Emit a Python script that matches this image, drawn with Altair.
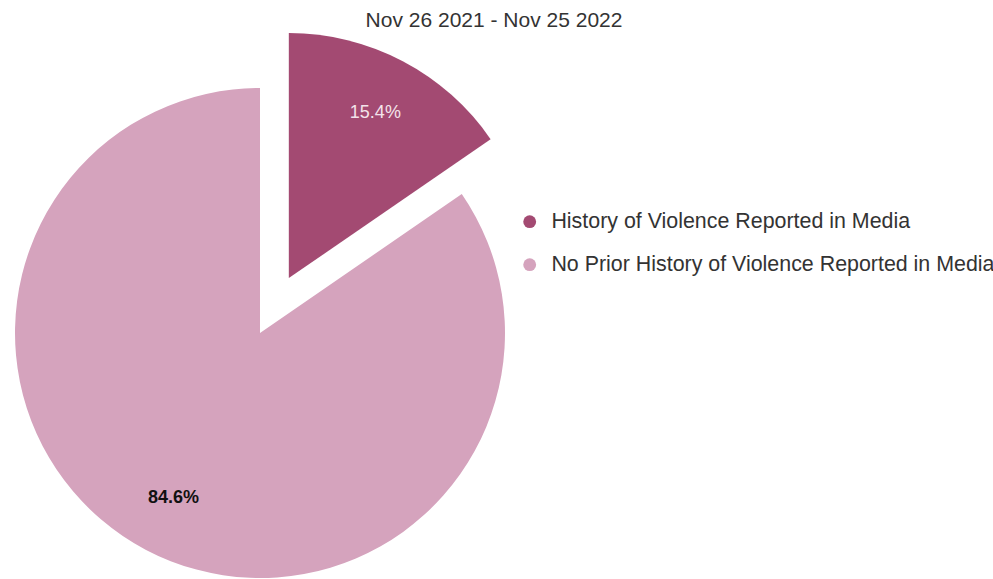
import altair as alt
import pandas as pd

categories = ["History of Violence Reported in Media",
              "No Prior History of Violence Reported in Media"]
shares = [15.4, 84.6]
labels = ["15.4%", "84.6%"]
title_text = ["Nov 26 2021 - Nov 25 2022"]

# layout / style constants
W, H = 993, 579
CX, CY = 260, 333
R = 245
EXPLODE = 62
LABEL_R = 186
colors = ["#a34a72", "#d5a3bd"]
FONT = "Liberation Sans"

df = pd.DataFrame({"category": categories, "share": shares,
                   "label": labels, "idx": list(range(len(categories)))})

base = (
    alt.Chart(df)
    .transform_joinaggregate(total="sum(share)")
    .transform_window(cum="sum(share)", sort=[alt.SortField("idx")], frame=[None, 0])
    .transform_calculate(
        a0="(datum.cum - datum.share) / datum.total * 2 * PI",
        a1="datum.cum / datum.total * 2 * PI",
    )
    .transform_calculate(mid="(datum.a0 + datum.a1) / 2",
                         off=f"datum.idx == 0 ? {EXPLODE} : 0")
    .transform_calculate(cx=f"{CX} + datum.off * sin(datum.mid)",
                         cy=f"{CY} - datum.off * cos(datum.mid)")
    .transform_calculate(lx=f"datum.cx + {LABEL_R} * sin(datum.mid)",
                         ly=f"datum.cy - {LABEL_R} * cos(datum.mid)")
)

arcs = base.mark_arc(outerRadius=R).encode(
    theta=alt.Theta("a0:Q", scale=None),
    theta2=alt.Theta2("a1:Q"),
    x=alt.X("cx:Q", scale=None, axis=None),
    y=alt.Y("cy:Q", scale=None, axis=None),
    color=alt.Color(
        "category:N",
        scale=alt.Scale(domain=categories, range=colors),
        legend=alt.Legend(
            title=None, orient="none", legendX=519, legendY=211,
            symbolType="circle", symbolSize=165, symbolStrokeWidth=0,
            labelFontSize=21.4, labelFont=FONT, labelColor="#333333",
            rowPadding=20, labelOffset=11, padding=0, labelLimit=600,
        ),
    ),
)

lab_small = base.transform_filter("datum.idx == 0").mark_text(
    fontSize=18, font=FONT, color="#f3e3ea", baseline="middle"
).encode(x=alt.X("lx:Q", scale=None), y=alt.Y("ly:Q", scale=None), text="label:N")

lab_big = base.transform_filter("datum.idx == 1").mark_text(
    fontSize=18, font=FONT, fontWeight="bold", color="#111111", baseline="middle"
).encode(x=alt.X("lx:Q", scale=None), y=alt.Y("ly:Q", scale=None), text="label:N")

title = alt.Chart(pd.DataFrame({"t": title_text})).mark_text(
    fontSize=21, font=FONT, color="#333333", baseline="alphabetic", align="center"
).encode(x=alt.value(494), y=alt.value(27), text="t:N")

chart = (
    alt.layer(arcs, lab_small, lab_big, title)
    .properties(width=W, height=H, padding=0, autosize="none")
    .configure_view(stroke=None)
)

chart.save("out.html", embed_options={"renderer": "svg", "actions": False})
